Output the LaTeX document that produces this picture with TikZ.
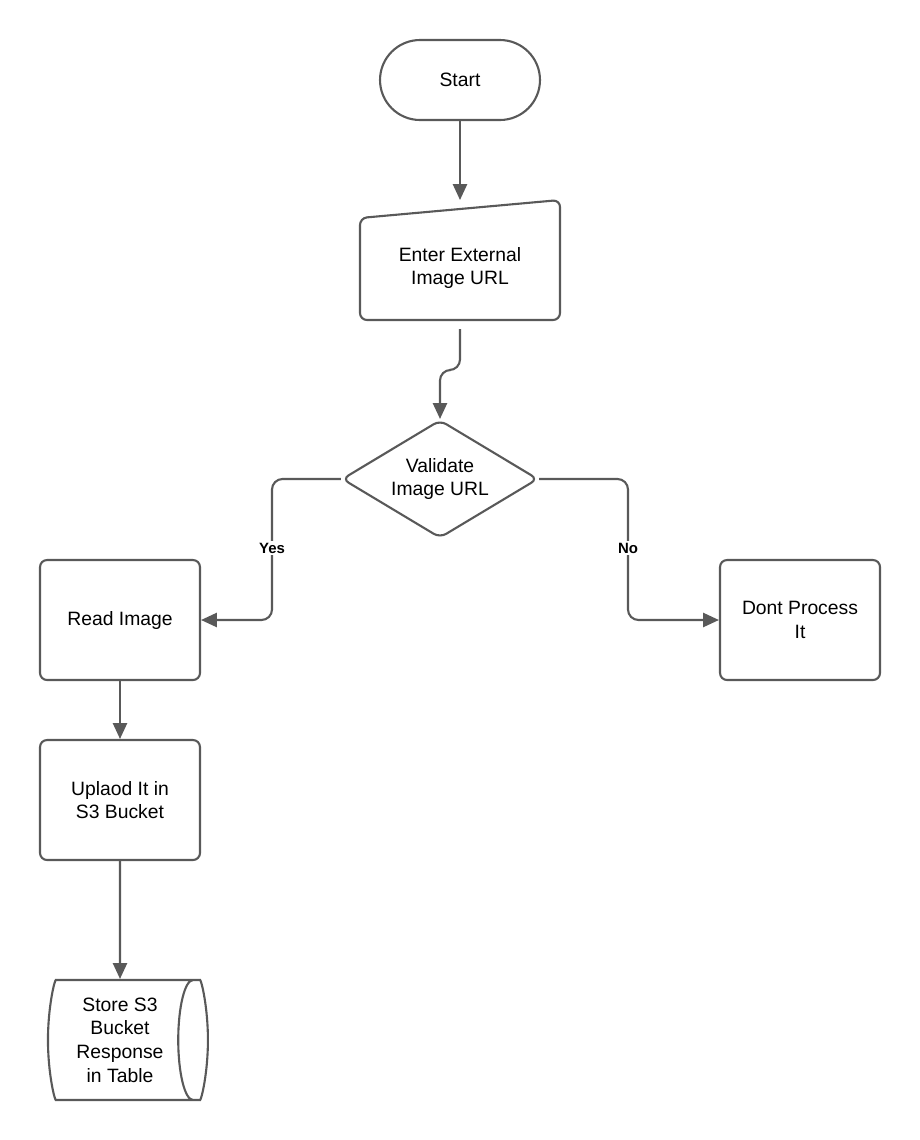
\documentclass[tikz,border=0pt]{standalone}
\usepackage{fontspec}
\setmainfont{Liberation Sans}
\usetikzlibrary{shapes.geometric, arrows.meta, positioning}

\begin{document}
\begin{tikzpicture}[
            x=0.02cm, y=-0.02cm,
            line width=1.2pt,
            base/.style={draw=black!65, line width=1.2pt, align=center, font=\fontsize{11}{13.5}\selectfont, rounded corners=4pt},
            proc/.style={base, rectangle, minimum width=3.2cm, minimum height=2.4cm},
            term/.style={base, rectangle, rounded corners=0.8cm, minimum width=3.2cm, minimum height=1.6cm},
            check/.style={base, diamond, aspect=1.66, minimum width=3.92cm, minimum height=2.36cm, inner sep=0pt},
            store/.style={base, cylinder, shape aspect=0.35, minimum width=2.4cm, minimum height=3.2cm, inner sep=0pt},
            flow/.style={draw=black!65, line width=1.2pt, -{Triangle[length=9pt,width=8pt]}, rounded corners=6pt},
            tag/.style={font=\fontsize{8.5}{10}\selectfont\bfseries, fill=white, inner sep=1pt}
        ]
\useasboundingbox (0,0) rectangle (920,1140);

% Nodes
            \node[term] (start) at (460,80) {Start};
            \node[minimum width=4cm, minimum height=2.4cm, align=center, font=\fontsize{11}{13.5}\selectfont] (input) at (460,268) {Enter External\\Image URL};
            \draw[draw=black!65, rounded corners=4pt] (360,218) -- (560,200) -- (560,320) -- (360,320) -- cycle;
            \coordinate (inTop) at (460,200);
            \node[check] (valid) at (440,479) {Validate\\Image URL};
            \node[proc] (read) at (120,620) {Read Image};
            \node[proc] (skip) at (800,620) {Dont Process\\It};
            \node[proc] (upload) at (120,800) {Uplaod It in\\S3 Bucket};
            \node[store] (table) at (120,1040) {Store S3\\Bucket\\Response\\in Table};

% Arrows
            \draw[flow] (start.south) -- (inTop);
            \draw[flow] (input.south) -- (460,370) -- (440,370) -- (valid.north);
            \draw[flow] (valid.west) -- (272,479) -- (272,620) -- (read.east);
            \draw[flow] (valid.east) -- (628,479) -- (628,620) -- (skip.west);
            \draw[flow] (read.south) -- (upload.north);
            \draw[flow] (upload.south) -- (table.north);
            \node[tag] (yes) at (272,548) {Yes};
            \node[tag] (no) at (628,548) {No};

        \end{tikzpicture}
\end{document}
